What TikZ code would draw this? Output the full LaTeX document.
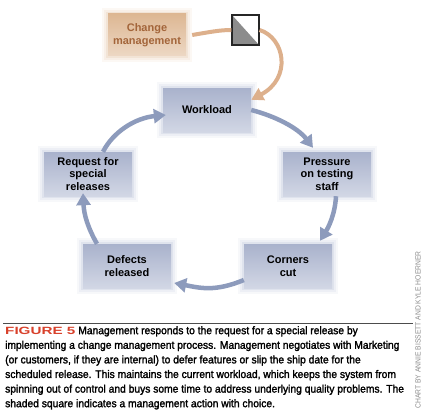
\documentclass[tikz,border=0pt]{standalone}
\usepackage{fontspec}
\setmainfont{Liberation Sans}
\newfontfamily\capfont[FakeStretch=0.935,FakeBold=1.8]{Liberation Sans}
\newfontfamily\figfont[FakeStretch=1.45]{Liberation Sans}
\newfontfamily\credfont[FakeStretch=0.9]{Liberation Sans}
\usetikzlibrary{arrows.meta}
\definecolor{boxtop}{HTML}{A9B2CC}
\definecolor{boxbot}{HTML}{D2D7E5}
\definecolor{flowblue}{HTML}{8D9BBC}
\definecolor{tantop}{HTML}{DDB793}
\definecolor{tanbot}{HTML}{EDD8C4}
\definecolor{tanline}{HTML}{DDB08C}
\definecolor{tantext}{HTML}{A3653A}
\definecolor{figred}{HTML}{D8412B}
\definecolor{choicegray}{HTML}{8C8C8C}

\begin{document}
\begin{tikzpicture}[x=1pt,y=-1pt,
    cloud/.style={minimum width=88pt, minimum height=44pt, inner sep=0pt,
      top color=#1top, bottom color=#1bot, align=center,
      font=\bfseries\fontsize{11}{12.5}\selectfont,
      preaction={draw=#1bot!18, line width=12pt},
      preaction={draw=#1bot!40, line width=8pt},
      preaction={draw=#1bot!70, line width=4pt}},
    flow/.style={draw=flowblue, line width=4.5pt, -{Triangle[length=12pt,width=14pt]}},
    tanflow/.style={draw=tanline, line width=4pt}]
  \useasboundingbox (0,0) rectangle (427,417);

  \node (chg) [cloud=tan, text=tantext, minimum width=78pt, minimum height=42pt] at (147,35) {Change\\management};
  \node (choice) [draw=black!85, line width=1.2pt, fill=white, minimum width=27pt, minimum height=30pt,
    path picture={\fill[choicegray] (path picture bounding box.north west) -- (path picture bounding box.south west)
      -- (path picture bounding box.south east) -- cycle;}] at (245.5,30) {};

  \node (work) [cloud=box] at (207,110) {Workload};
  \node (press) [cloud=box] at (327,174) {Pressure\\on testing\\staff};
  \node (corn) [cloud=box] at (288,266) {Corners\\cut};
  \node (defe) [cloud=box] at (127,266) {Defects\\released};
  \node (req) [cloud=box] at (88,174) {Request for\\special\\releases};

  \draw [tanflow] ([xshift=6pt]chg.east) .. controls (210,32) and (220,30) .. (choice.west);
  \draw [tanflow, -{Triangle[length=12pt,width=13pt]}] (choice.east) .. controls (285,38) and (292,78) .. ([shift={(0pt,-12pt)}]work.north east);

  \draw [flow] (work.east) .. controls (275,116) and (298,128) .. ([shift={(-14pt,4pt)}]press.north);
  \draw [flow] ([xshift=9pt]press.south) .. controls (335,215) and (328,228) .. ([shift={(32pt,3pt)}]corn.north);
  \draw [flow] ([yshift=-14pt]corn.west) .. controls (215,292) and (200,288) .. ([shift={(3pt,-17pt)}]defe.east);
  \draw [flow] ([xshift=-30pt]defe.north) .. controls (88,228) and (84,215) .. ([shift={(-5pt,3pt)}]req.south);
  \draw [flow] ([xshift=15pt]req.north) .. controls (113,132) and (135,118) .. ([shift={(3pt,-5pt)}]work.west);

  \draw [line width=0.6pt, black!70] (3,323) -- (413,323);
  \node (caption) [anchor=north west, align=left, inner sep=0pt,
    font=\capfont\fontsize{11}{14.6}\selectfont] at (5,326)
    {{\figfont\bfseries\fontsize{10.5}{14.6}\selectfont\color{figred}FIGURE 5} Management responds to the request for a special release by\\
     implementing a change management process. Management negotiates with Marketing\\
     (or customers, if they are internal) to defer features or slip the ship date for the\\
     scheduled release. This maintains the current workload, which keeps the system from\\
     spinning out of control and buys some time to address underlying quality problems. The\\
     shaded square indicates a management action with choice.};
  \node (credit) [rotate=90, text=black!45, inner sep=0pt,
    font=\credfont\fontsize{7.5}{8}\selectfont] at (418,330) {CHART BY ANNIE BISSETT AND KYLE HOERNER};
\end{tikzpicture}
\end{document}
